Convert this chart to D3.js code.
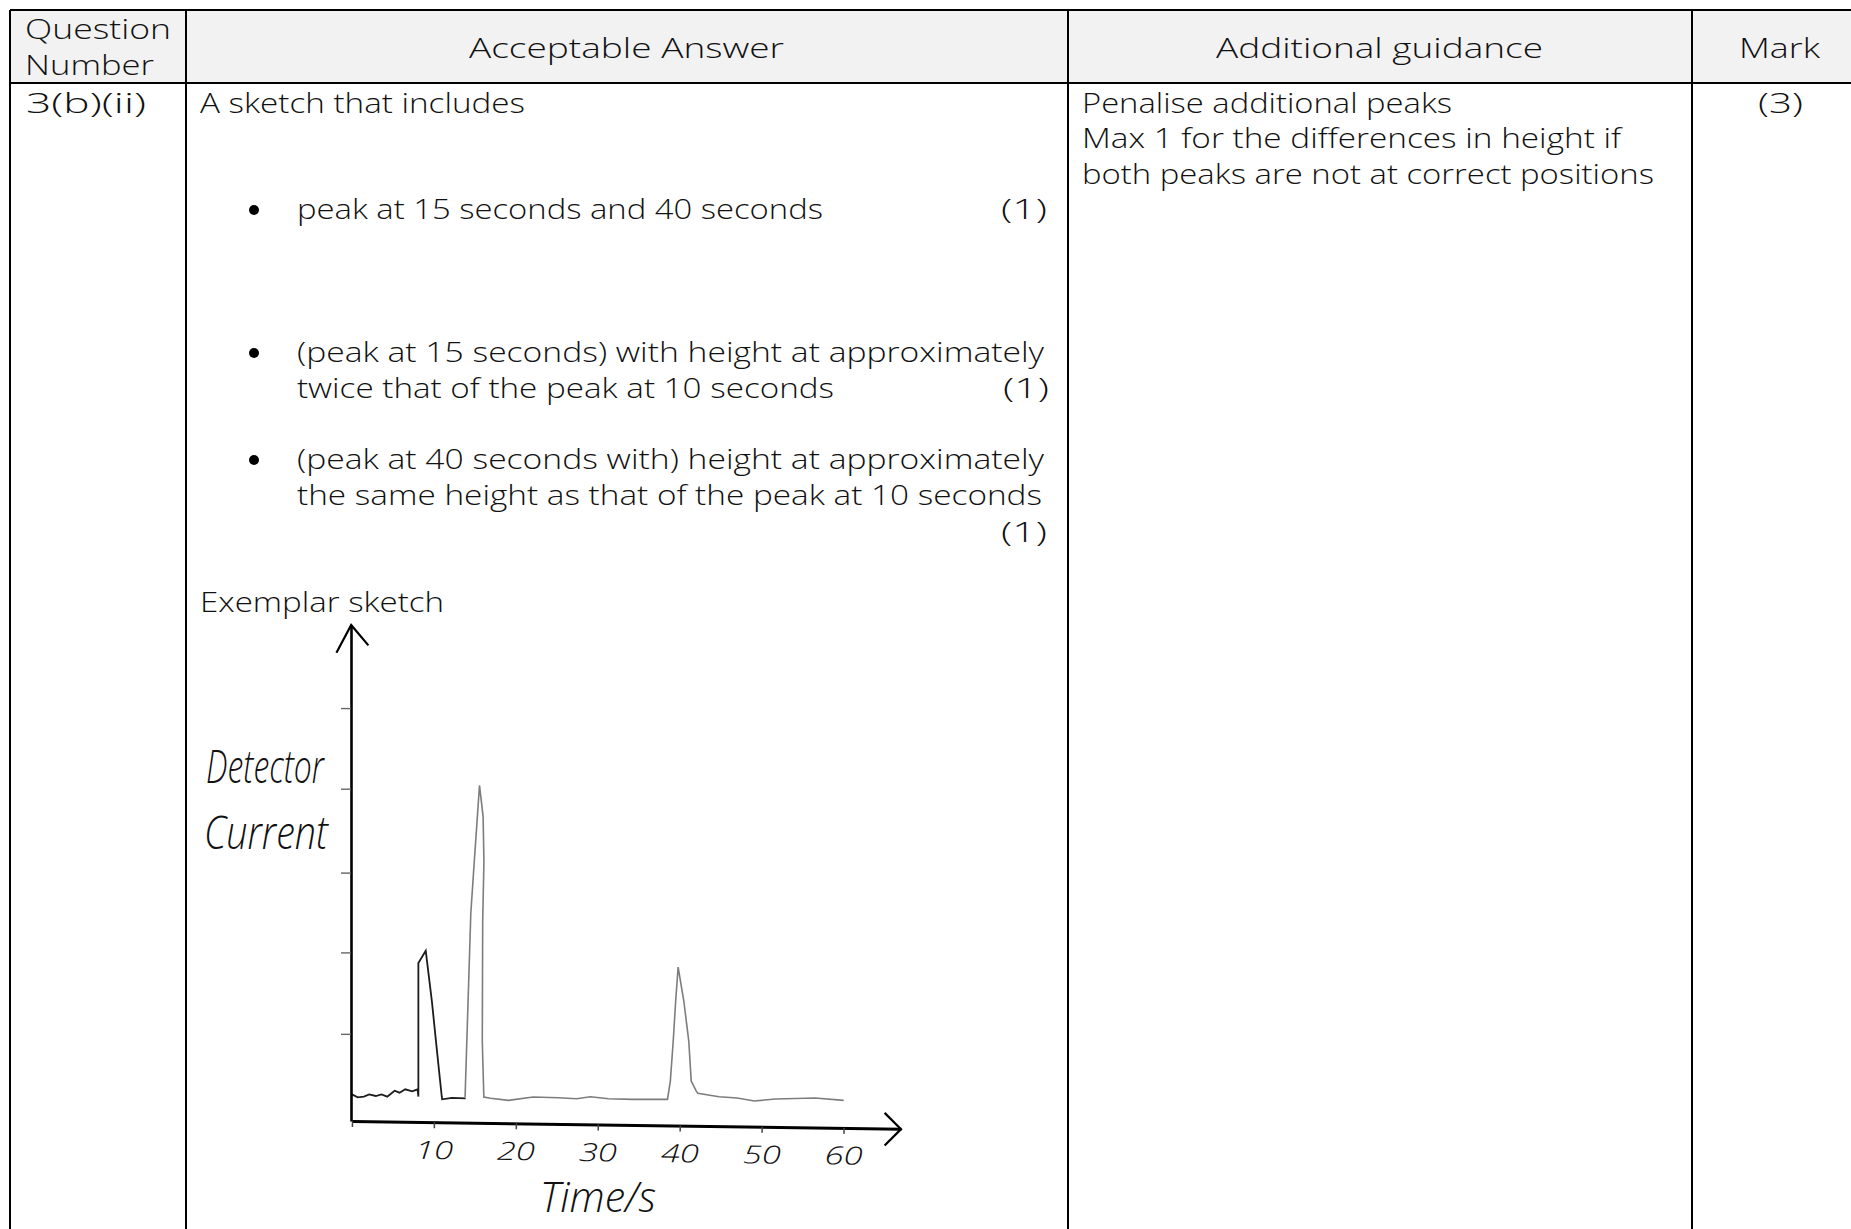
<!DOCTYPE html>
<html>
<head>
<meta charset="utf-8">
<title>Exemplar sketch</title>
<style>
  body { margin: 0; background: #fff; }
  svg { display: block; }
  .cell { font-family: "Open Sans", Lato, sans-serif; font-weight: 300; font-size: 27px; fill: #111; }
  .hand { font-family: "Open Sans", Lato, sans-serif; font-weight: 300; font-style: italic; fill: #111; }
</style>
</head>
<body>
<script src="https://cdn.jsdelivr.net/npm/d3@7"></script>
<script>

// table text
var cellText = ["Question", "Number", "Acceptable Answer", "Additional guidance", "Mark",
  "3(b)(ii)", "A sketch that includes",
  "peak at 15 seconds and 40 seconds", "(1)",
  "(peak at 15 seconds) with height at approximately",
  "twice that of the peak at 10 seconds", "(1)",
  "(peak at 40 seconds with) height at approximately",
  "the same height as that of the peak at 10 seconds", "(1)",
  "Exemplar sketch",
  "Penalise additional peaks", "Max 1 for the differences in height if",
  "both peaks are not at correct positions", "(3)"];

// sketch values: time in s, detector current in tick units
var timeTicks = [0, 10, 20, 30, 40, 50, 60];
var currentTicks = [1.07, 2.07, 3.05, 4.08, 5.07];

var darkTime = [0, 0.7, 1.45, 2.1, 2.9, 3.6, 4.3, 5.2, 5.8, 6.5, 7.35, 8.0, 8.1, 8.1, 9.0, 9.75, 10.4, 10.96, 11.0, 12.2, 13.87];
var darkCurrent = [0.327, 0.291, 0.299, 0.327, 0.307, 0.327, 0.299, 0.372, 0.348, 0.389, 0.364, 0.389, 0.3, 1.94, 2.09, 1.47, 0.83, 0.295, 0.266, 0.285, 0.278];

var greyTime = [13.8, 14.5, 14.96, 15.56, 16.0, 16.1, 15.95, 15.9, 16.09, 16.9, 19.1, 22.1, 25.2, 27.4, 29.1, 31.3, 34.3, 38.5, 38.85, 39.2, 39.5, 39.8, 40.5, 41.1, 41.4, 42.0, 42.2, 44.8, 47, 49.1, 51.7, 56.5, 60];
var greyCurrent = [0.295, 2.55, 3.24, 4.12, 3.74, 3.19, 2.45, 0.98, 0.295, 0.28, 0.253, 0.294, 0.286, 0.274, 0.298, 0.274, 0.266, 0.266, 0.49, 0.98, 1.47, 1.89, 1.47, 0.98, 0.49, 0.37, 0.34, 0.298, 0.282, 0.245, 0.27, 0.282, 0.253];

// x, baseline, width of each string in cellText
var cellBox = [[25, 39, 146], [25, 75, 129], [469, 58, 315], [1216, 58, 327], [1739, 58, 81],
  [26, 113, 120], [200, 113, 325],
  [297, 219, 526], [1001, 219, 46],
  [297, 362, 747], [297, 398, 537], [1003, 398, 46],
  [297, 469, 747], [297, 505, 745], [1001, 542, 46],
  [200, 612, 244],
  [1082, 113, 370], [1082, 148, 539], [1082, 184, 572], [1758, 113, 45]];
var bullets = [210, 353, 460];
var columns = [10, 186, 1068, 1692];

var width = 1851, height = 1229;

var svg = d3.select("body").append("svg")
  .attr("width", width)
  .attr("height", height);

// table
svg.append("rect")
  .attr("x", columns[0]).attr("y", 10)
  .attr("width", width - columns[0]).attr("height", 73)
  .attr("fill", "#f2f2f2");

svg.selectAll("line.col")
  .data(columns)
  .enter().append("line")
  .attr("class", "col")
  .attr("x1", function(d) { return d; })
  .attr("x2", function(d) { return d; })
  .attr("y1", 10)
  .attr("y2", height)
  .attr("stroke", "#000")
  .attr("stroke-width", 2);

svg.selectAll("line.row")
  .data([10, 83])
  .enter().append("line")
  .attr("class", "row")
  .attr("x1", columns[0])
  .attr("x2", width)
  .attr("y1", function(d) { return d; })
  .attr("y2", function(d) { return d; })
  .attr("stroke", "#000")
  .attr("stroke-width", 2);

svg.selectAll("text.cell")
  .data(cellText)
  .enter().append("text")
  .attr("class", "cell")
  .attr("x", function(d, i) { return cellBox[i][0]; })
  .attr("y", function(d, i) { return cellBox[i][1]; })
  .attr("textLength", function(d, i) { return cellBox[i][2]; })
  .attr("lengthAdjust", "spacingAndGlyphs")
  .text(function(d) { return d; });

svg.selectAll("circle.bullet")
  .data(bullets)
  .enter().append("circle")
  .attr("class", "bullet")
  .attr("cx", 254)
  .attr("cy", function(d) { return d; })
  .attr("r", 5)
  .attr("fill", "#000");

// sketch
var x = d3.scaleLinear().domain([0, 67]).range([352, 901]);
var y = d3.scaleLinear().domain([0, 6.09]).range([1121, 625]);

var line = d3.line()
  .x(function(d) { return x(d[0]); })
  .y(function(d) { return y(d[1]); });

function drawTrace(times, values, colour, w) {
  svg.append("path")
    .datum(d3.zip(times, values))
    .attr("d", line)
    .attr("fill", "none")
    .attr("stroke", colour)
    .attr("stroke-width", w);
}
drawTrace(greyTime, greyCurrent, "#7d7d7d", 1.6);
drawTrace(darkTime, darkCurrent, "#1c1c1c", 1.8);

// x axis is drawn a little off level, like the pencil line
var xAxis = d3.axisBottom(x)
  .tickValues(timeTicks)
  .tickSize(6)
  .tickSizeOuter(0)
  .tickPadding(13);

var gx = svg.append("g")
  .attr("transform", "translate(0,1121) rotate(0.8,352,0)")
  .call(xAxis);
gx.select(".domain").attr("stroke", "#000").attr("stroke-width", 3);
gx.selectAll(".tick line").attr("stroke", "#444").attr("stroke-width", 1.5);
gx.selectAll(".tick text")
  .attr("class", "hand")
  .style("font-size", "25px")
  .attr("textLength", function(d) { return d ? 38 : null; })
  .attr("lengthAdjust", "spacingAndGlyphs")
  .text(function(d) { return d ? d : ""; });

var yAxis = d3.axisLeft(y)
  .tickValues(currentTicks)
  .tickSize(10)
  .tickSizeOuter(0)
  .tickFormat("");

var gy = svg.append("g")
  .attr("transform", "translate(351,0)")
  .call(yAxis);
gy.select(".domain").attr("stroke", "#000").attr("stroke-width", 2.6);
gy.selectAll(".tick line").attr("stroke", "#666").attr("stroke-width", 1.4);

// arrow heads, in the same units as the axes
var arrowUp = [[-1.9, 5.75], [-0.1, 6.09], [2, 5.84]];
var arrowRight = [[65, 0.1], [67, -0.1], [65, -0.3]];

svg.selectAll("path.arrow")
  .data([arrowUp, arrowRight])
  .enter().append("path")
  .attr("class", "arrow")
  .attr("d", line)
  .attr("fill", "none")
  .attr("stroke", "#000")
  .attr("stroke-width", 2.2);

// handwritten labels
var handText = ["Detector", "Current", "Time/s"];
var handBox = [[206, 783, 118, 46], [204, 849, 124, 46], [540, 1212, 116, 42]];

svg.selectAll("text.label")
  .data(handText)
  .enter().append("text")
  .attr("class", "hand label")
  .attr("x", function(d, i) { return handBox[i][0]; })
  .attr("y", function(d, i) { return handBox[i][1]; })
  .attr("textLength", function(d, i) { return handBox[i][2]; })
  .attr("lengthAdjust", "spacingAndGlyphs")
  .style("font-size", function(d, i) { return handBox[i][3] + "px"; })
  .text(function(d) { return d; });

</script>
</body>
</html>
